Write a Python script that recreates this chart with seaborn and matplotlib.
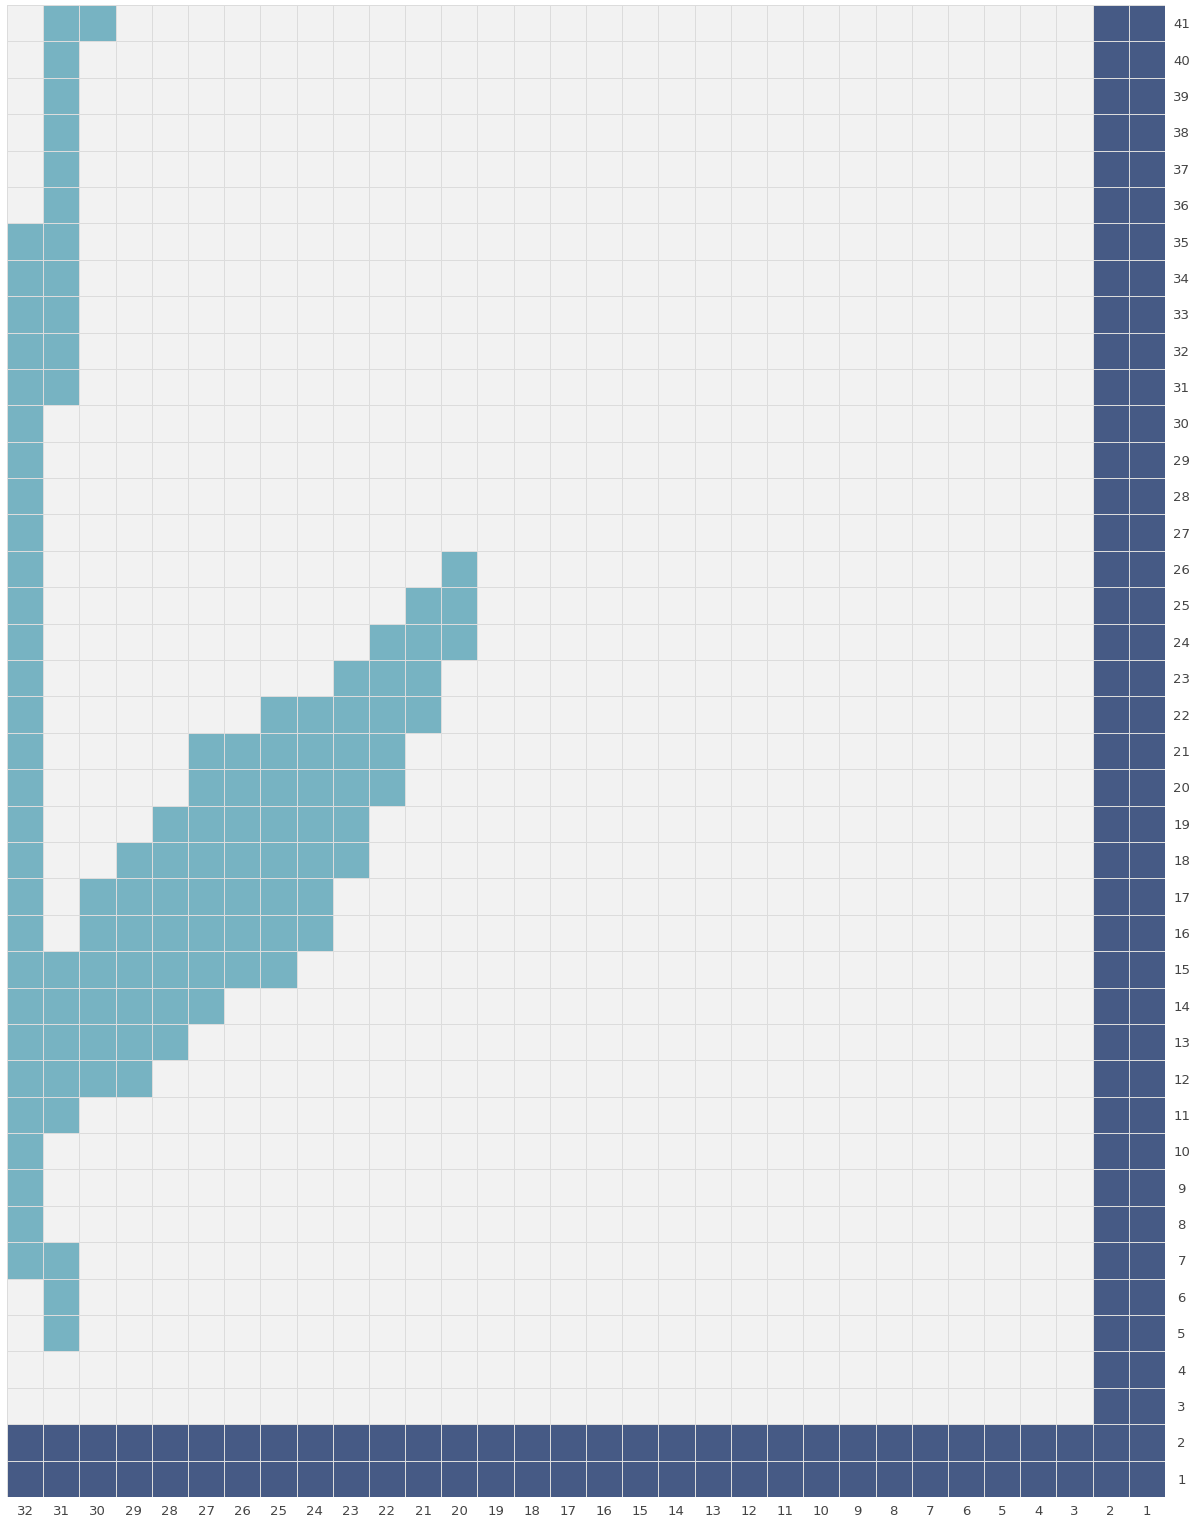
import numpy as np
import pandas as pd
import matplotlib
matplotlib.use("Agg")
import matplotlib.pyplot as plt
from matplotlib.colors import ListedColormap
import seaborn as sns

# ---- data ----
n_cols = 32
n_rows = 41
col_labels = list(range(32, 0, -1))   # left to right
row_labels = list(range(41, 0, -1))   # top to bottom

border_rows = [1, 2]     # navy rows
border_cols = [1, 2]     # navy columns

teal_cells = {
    41: [31, 30],
    40: [31], 39: [31], 38: [31], 37: [31], 36: [31],
    35: [32, 31], 34: [32, 31], 33: [32, 31], 32: [32, 31], 31: [32, 31],
    30: [32], 29: [32], 28: [32], 27: [32],
    26: [32, 20],
    25: [32, 21, 20],
    24: [32, 22, 21, 20],
    23: [32, 23, 22, 21],
    22: [32, 25, 24, 23, 22, 21],
    21: [32, 27, 26, 25, 24, 23, 22],
    20: [32, 27, 26, 25, 24, 23, 22],
    19: [32, 28, 27, 26, 25, 24, 23],
    18: [32, 29, 28, 27, 26, 25, 24, 23],
    17: [32, 30, 29, 28, 27, 26, 25, 24],
    16: [32, 30, 29, 28, 27, 26, 25, 24],
    15: [32, 31, 30, 29, 28, 27, 26, 25],
    14: [32, 31, 30, 29, 28, 27],
    13: [32, 31, 30, 29, 28],
    12: [32, 31, 30, 29],
    11: [32, 31],
    10: [32], 9: [32], 8: [32],
    7: [32, 31],
    6: [31], 5: [31],
}

# ---- build grid ----
grid = pd.DataFrame(0, index=row_labels, columns=col_labels)
for r, cols in teal_cells.items():
    for c in cols:
        grid.loc[r, c] = 1
for r in border_rows:
    grid.loc[r, :] = 2
for c in border_cols:
    grid.loc[:, c] = 2

cmap = ListedColormap(["#f2f2f2", "#77b3c2", "#465a85"])

fig = plt.figure(figsize=(11.95, 15.19), dpi=100)
ax = fig.add_axes([7 / 1195, 1 - 1497 / 1519, (1165 - 7) / 1195, (1497 - 5) / 1519])
sns.heatmap(grid, ax=ax, cmap=cmap, vmin=-0.5, vmax=2.5, cbar=False,
            linewidths=0.7, linecolor="#dcdcdc", square=False,
            xticklabels=col_labels, yticklabels=row_labels)

ax.yaxis.tick_right()
ax.tick_params(axis="both", length=0, labelsize=9.5, labelcolor="#444444")
ax.tick_params(axis="x", pad=6)
ax.tick_params(axis="y", pad=12)
plt.setp(ax.get_yticklabels(), rotation=0, ha="center")
plt.setp(ax.get_xticklabels(), rotation=0)
ax.set_xlabel("")
ax.set_ylabel("")
for s in ax.spines.values():
    s.set_visible(False)

fig.savefig("out.png", dpi=100, facecolor="white")
